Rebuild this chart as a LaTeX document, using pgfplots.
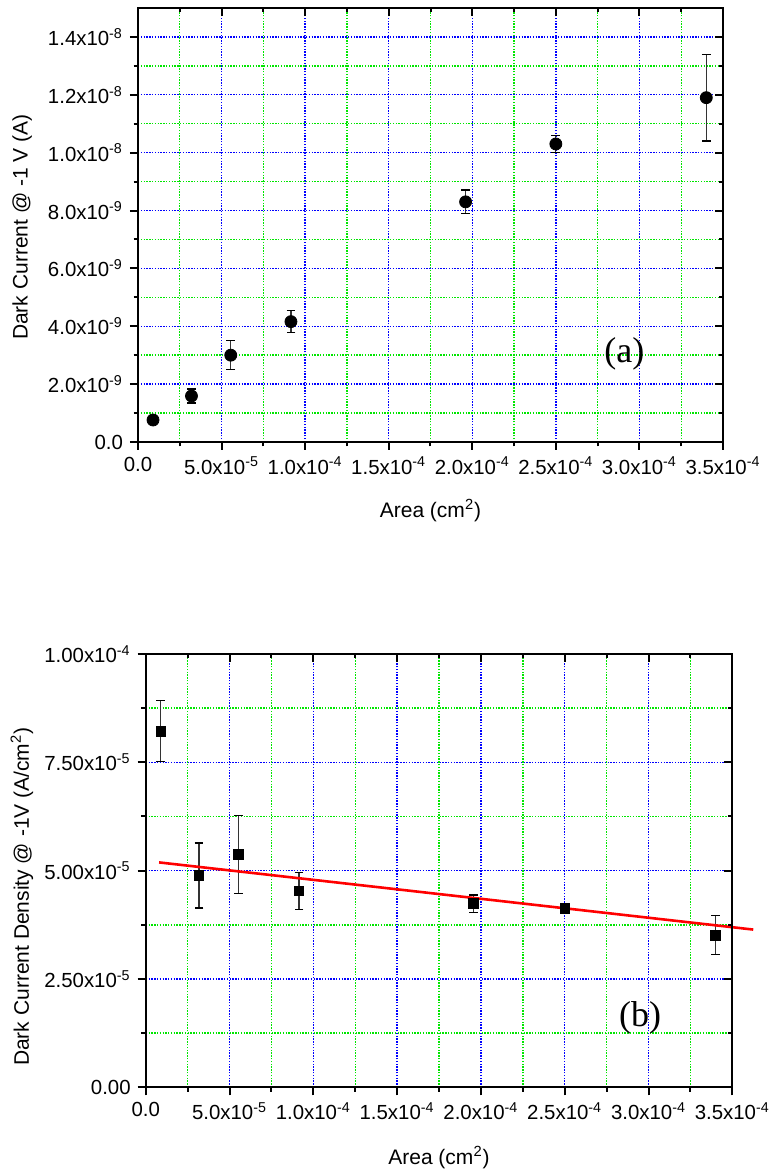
\documentclass[border=0pt]{standalone}
\usepackage{pgfplots}
\pgfplotsset{compat=1.18}
\usepackage{fontspec}
\setmainfont{Liberation Sans}
\newfontfamily\seriffont{Liberation Serif}
\definecolor{gridgreen}{RGB}{0,230,0}
\definecolor{gridblue}{RGB}{0,0,255}
\begin{document}
\fontsize{10bp}{12bp}\selectfont
\begin{tikzpicture}
\pgfplotsset{
  base/.style={
    scale only axis,
    axis line style={line width=1.1bp},
    every tick/.style={black, line width=1bp},
    major tick length=4bp, minor tick length=2.2bp,
    minor tick num=1,
    xmin=0, xmax=3.5e-4,
    xtick={0,5e-5,1e-4,1.5e-4,2e-4,2.5e-4,3e-4,3.5e-4},
    xticklabels={0.0, 5.0x10\textsuperscript{-5}, 1.0x10\textsuperscript{-4}, 1.5x10\textsuperscript{-4}, 2.0x10\textsuperscript{-4}, 2.5x10\textsuperscript{-4}, 3.0x10\textsuperscript{-4}, 3.5x10\textsuperscript{-4}},
    scaled ticks=false,
    tick label style={font=\fontsize{10.2bp}{12bp}\selectfont},
    label style={font=\fontsize{10.5bp}{12bp}\selectfont},
  },
  main/.style={
    base,
    xtick pos=left, ytick pos=left, tick align=outside,
    grid=both,
    major grid style={gridblue, line width=0.7bp, dash pattern=on 0.7bp off 0.7bp},
    minor grid style={gridgreen, line width=0.7bp, dash pattern=on 0.7bp off 0.7bp},
    error bars/error bar style={line width=0.6bp, black!80},
    error bars/error mark options={rotate=90, mark size=2.2bp, line width=0.6bp, black},
  },
  mirror/.style={
    base,
    xtick pos=right, ytick pos=right, tick align=inside,
    xticklabels={}, yticklabels={},
  },
}
% ---------- (a) ----------
\useasboundingbox (0,0) rectangle (385.5bp,586bp);
\begin{axis}[main, at={(69bp,365bp)}, anchor=south west, width=292.5bp, height=217bp,
  ymin=0, ymax=1.5e-8,
  ytick={0,2e-9,4e-9,6e-9,8e-9,1e-8,1.2e-8,1.4e-8},
  yticklabels={0.0, 2.0x10\textsuperscript{-9}, 4.0x10\textsuperscript{-9}, 6.0x10\textsuperscript{-9}, 8.0x10\textsuperscript{-9}, 1.0x10\textsuperscript{-8}, 1.2x10\textsuperscript{-8}, 1.4x10\textsuperscript{-8}},
  xlabel={Area (cm\textsuperscript{2})},
  ylabel={Dark Current @ -1 V (A)},
  xlabel style={at={(rel axis cs:0.5,-0.159)}, anchor=center},
  ylabel style={at={(rel axis cs:-0.198,0.495)}, anchor=center},
  clip=false]
\addplot[only marks, mark=*, mark size=3bp, black,
  error bars/.cd, y dir=both, y explicit]
coordinates {
  (9.0e-6, 0.76e-9) +- (0, 0)
  (3.2e-5, 1.59e-9) +- (0, 0.24e-9)
  (5.55e-5, 3.00e-9) +- (0, 0.50e-9)
  (9.15e-5, 4.16e-9) +- (0, 0.38e-9)
  (1.96e-4, 8.30e-9) +- (0, 0.41e-9)
  (2.50e-4, 10.30e-9) +- (0, 0.29e-9)
  (3.40e-4, 11.90e-9) +- (0, 1.50e-9)
};
\node[font=\seriffont\fontsize{18bp}{20bp}\selectfont] at (axis cs:2.91e-4,3.04e-9) {(a)};
\end{axis}
\begin{axis}[mirror, at={(69bp,365bp)}, anchor=south west, width=292.5bp, height=217bp,
  ymin=0, ymax=1.5e-8,
  ytick={0,2e-9,4e-9,6e-9,8e-9,1e-8,1.2e-8,1.4e-8}]
\addplot[draw=none] coordinates {(1e-4,1e-9)};
\end{axis}
% ---------- (b) ----------
\begin{axis}[main, at={(72.85bp,42.35bp)}, anchor=south west, width=293.3bp, height=216.65bp,
  ymin=0, ymax=1e-4,
  ytick={0,2.5e-5,5e-5,7.5e-5,1e-4},
  yticklabels={0.00, 2.50x10\textsuperscript{-5}, 5.00x10\textsuperscript{-5}, 7.50x10\textsuperscript{-5}, 1.00x10\textsuperscript{-4}},
  xlabel={Area (cm\textsuperscript{2})},
  ylabel={Dark Current Density @ -1V (A/cm\textsuperscript{2})},
  xlabel style={at={(rel axis cs:0.5,-0.163)}, anchor=center},
  ylabel style={at={(rel axis cs:-0.211,0.44)}, anchor=center},
  clip=false]
\addplot[only marks, mark=square*, mark size=2.4bp, black,
  error bars/.cd, y dir=both, y explicit]
coordinates {
  (0.9e-5, 8.22e-5) +- (0, 0.70e-5)
  (3.18e-5, 4.89e-5) +- (0, 0.75e-5)
  (5.53e-5, 5.38e-5) +- (0, 0.90e-5)
  (9.15e-5, 4.53e-5) +- (0, 0.42e-5)
  (1.955e-4, 4.24e-5) +- (0, 0.20e-5)
  (2.50e-4, 4.13e-5) +- (0, 0.10e-5)
  (3.40e-4, 3.51e-5) +- (0, 0.45e-5)
};
\addplot[red, line width=1.3bp, no marks] coordinates {(0.8e-5,5.19e-5) (3.625e-4,3.64e-5)};
\node[font=\seriffont\fontsize{18bp}{20bp}\selectfont] at (axis cs:2.95e-4,1.6e-5) {(b)};
\end{axis}
\begin{axis}[mirror, at={(72.85bp,42.35bp)}, anchor=south west, width=293.3bp, height=216.65bp,
  ymin=0, ymax=1e-4,
  ytick={0,2.5e-5,5e-5,7.5e-5,1e-4}]
\addplot[draw=none] coordinates {(1e-4,1e-5)};
\end{axis}
\end{tikzpicture}
\end{document}
